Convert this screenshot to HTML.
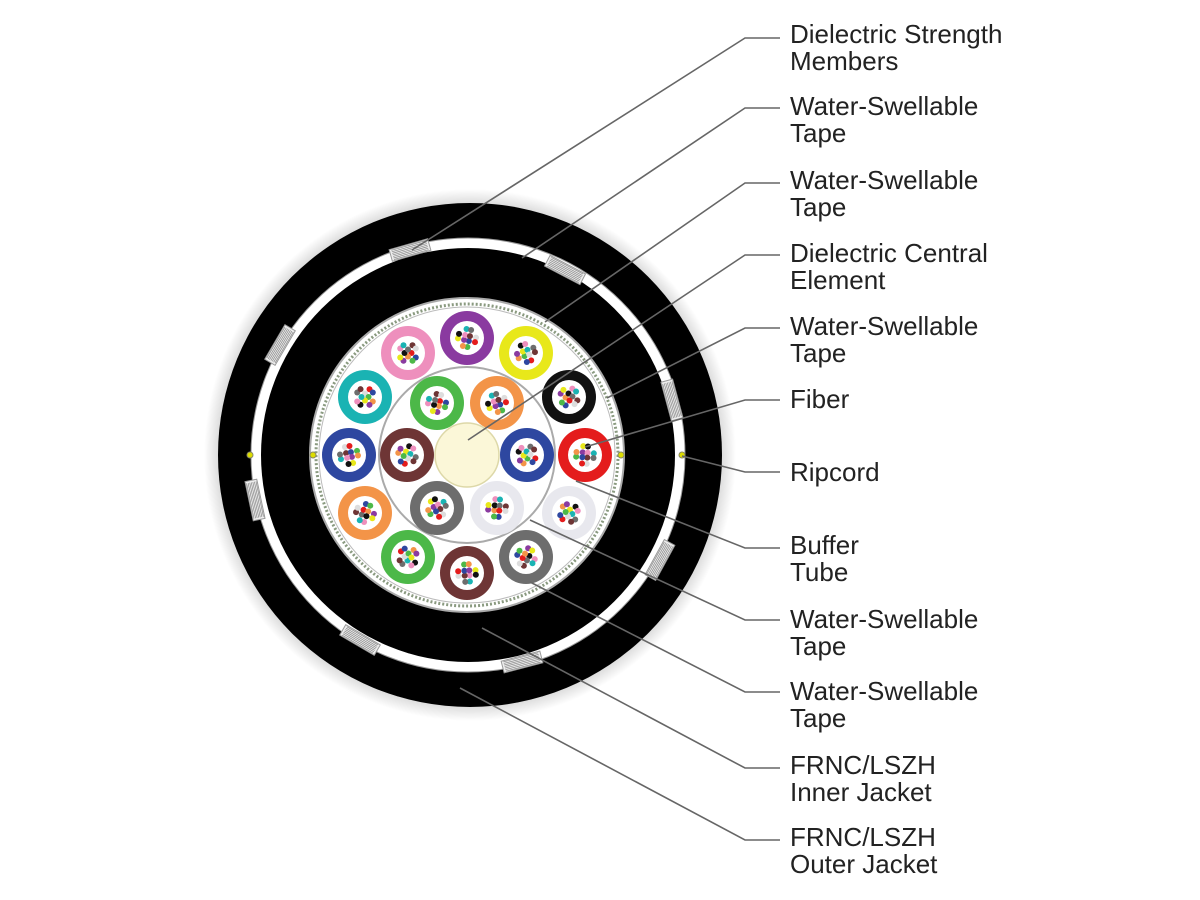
<!DOCTYPE html>
<html><head><meta charset="utf-8"><style>
html,body{margin:0;padding:0;background:#fff;}
svg{display:block}
text{font-family:"Liberation Sans",sans-serif;font-size:26px;fill:#222;}
</style></head><body>
<svg id="s" width="1200" height="900" viewBox="0 0 1200 900">
<defs><radialGradient id="sh"><stop offset="0.9" stop-color="#000" stop-opacity="0.25"/><stop offset="1" stop-color="#000" stop-opacity="0"/></radialGradient></defs>
<circle cx="470" cy="455" r="266" fill="url(#sh)"/>
<circle cx="470" cy="455" r="252" fill="#000"/>
<circle cx="468" cy="455" r="217" fill="#fff"/>
<circle cx="468" cy="455" r="217" fill="none" stroke="#999" stroke-width="1"/>
<circle cx="468" cy="455" r="207" fill="#000"/>
<circle cx="467" cy="455" r="157" fill="#fff" stroke="#aaa" stroke-width="2"/>
<circle cx="467" cy="455" r="151" fill="none" stroke="#8a9a80" stroke-width="3" stroke-dasharray="2 2"/>
<circle cx="467" cy="455" r="148" fill="none" stroke="#bbb" stroke-width="1"/>
<circle cx="467" cy="455" r="88" fill="none" stroke="#aaa" stroke-width="2"/>
<circle cx="467" cy="455" r="32" fill="#fbf7d8" stroke="#ddd8a8" stroke-width="1.5"/>
<g fill="#dd0" stroke="#886" stroke-width="1"><circle cx="250" cy="455" r="3"/><circle cx="313" cy="455" r="3"/><circle cx="621" cy="455" r="3"/><circle cx="682" cy="455" r="3"/></g>
<g id="tubes"></g>
<g id="sm"></g>
<g stroke="#666" stroke-width="1.6" fill="none">
<polyline points="780,38 745,38 412,250"/>
<polyline points="780,108 745,108 522,258"/>
<polyline points="780,183 745,183 545,322"/>
<polyline points="780,255 745,255 468,440"/>
<polyline points="780,328 745,328 607,398"/>
<polyline points="780,400 745,400 585,447"/>
<polyline points="780,472 745,472 682,456"/>
<polyline points="780,548 745,548 576,481"/>
<polyline points="780,620 745,620 530,520"/>
<polyline points="780,692 745,692 530,582"/>
<polyline points="780,768 745,768 482,628"/>
<polyline points="780,840 745,840 460,688"/>
</g>
<text x="790" y="43">Dielectric Strength</text><text x="790" y="70">Members</text>
<text x="790" y="115">Water-Swellable</text><text x="790" y="142">Tape</text>
<text x="790" y="189">Water-Swellable</text><text x="790" y="216">Tape</text>
<text x="790" y="262">Dielectric Central</text><text x="790" y="289">Element</text>
<text x="790" y="335">Water-Swellable</text><text x="790" y="362">Tape</text>
<text x="790" y="408">Fiber</text>
<text x="790" y="481">Ripcord</text>
<text x="790" y="554">Buffer</text><text x="790" y="581">Tube</text>
<text x="790" y="628">Water-Swellable</text><text x="790" y="655">Tape</text>
<text x="790" y="700">Water-Swellable</text><text x="790" y="727">Tape</text>
<text x="790" y="774">FRNC/LSZH</text><text x="790" y="801">Inner Jacket</text>
<text x="790" y="846">FRNC/LSZH</text><text x="790" y="873">Outer Jacket</text>
</svg>
<script>
var NS="http://www.w3.org/2000/svg";
function el(p,t,a){var e=document.createElementNS(NS,t);for(var k in a)e.setAttribute(k,a[k]);p.appendChild(e);return e;}
var T=[[408,353,"#ee8fbd"],[467,338,"#8a3aa0"],[526,353,"#e8e81a"],[569,397,"#111"],[585,455,"#e41c1c"],[569,513,"#e8e8ee"],[526,557,"#6d6d6d"],[467,573,"#6e3535"],[408,557,"#4cb848"],[365,513,"#f39448"],[349,455,"#2e47a0"],[365,397,"#1ab3b3"],
[437,403,"#4cb848"],[497,403,"#f39448"],[527,455,"#2e47a0"],[497,508,"#e8e8ee"],[437,508,"#6d6d6d"],[407,455,"#6e3535"]];
var C=["#e41c1c","#2e47a0","#4cb848","#f39448","#8a3aa0","#e8e81a","#111","#ee8fbd","#1ab3b3","#6d6d6d","#6e3535","#ddd"];
var g=document.getElementById("tubes");
T.forEach(function(t,i){
 el(g,"circle",{cx:t[0],cy:t[1],r:27,fill:t[2]});
 el(g,"circle",{cx:t[0],cy:t[1],r:17,fill:"#fff"});
 for(var j=0;j<12;j++){var a=j*Math.PI/6+i,r=(j%3==0)?3.5:9;
  el(g,"circle",{cx:t[0]+r*Math.cos(a),cy:t[1]+r*Math.sin(a),r:3,fill:C[(j+i)%12]});}
});
var s=document.getElementById("sm");
[[410,250],[565,270],[672,400],[660,560],[522,662],[360,640],[255,500],[280,345]].forEach(function(p){
 var a=Math.atan2(p[1]-455,p[0]-468)*180/Math.PI+90;
 var gg=el(s,"g",{transform:"translate("+p[0]+","+p[1]+") rotate("+a+")"});
 el(gg,"rect",{x:-20,y:-6,width:40,height:12,fill:"#eee",stroke:"#999","stroke-width":1});
 for(var k=-3;k<=3;k++)el(gg,"line",{x1:-18,y1:k*1.6,x2:18,y2:k*1.6,stroke:"#888","stroke-width":0.7});
});
</script>
</body></html>
